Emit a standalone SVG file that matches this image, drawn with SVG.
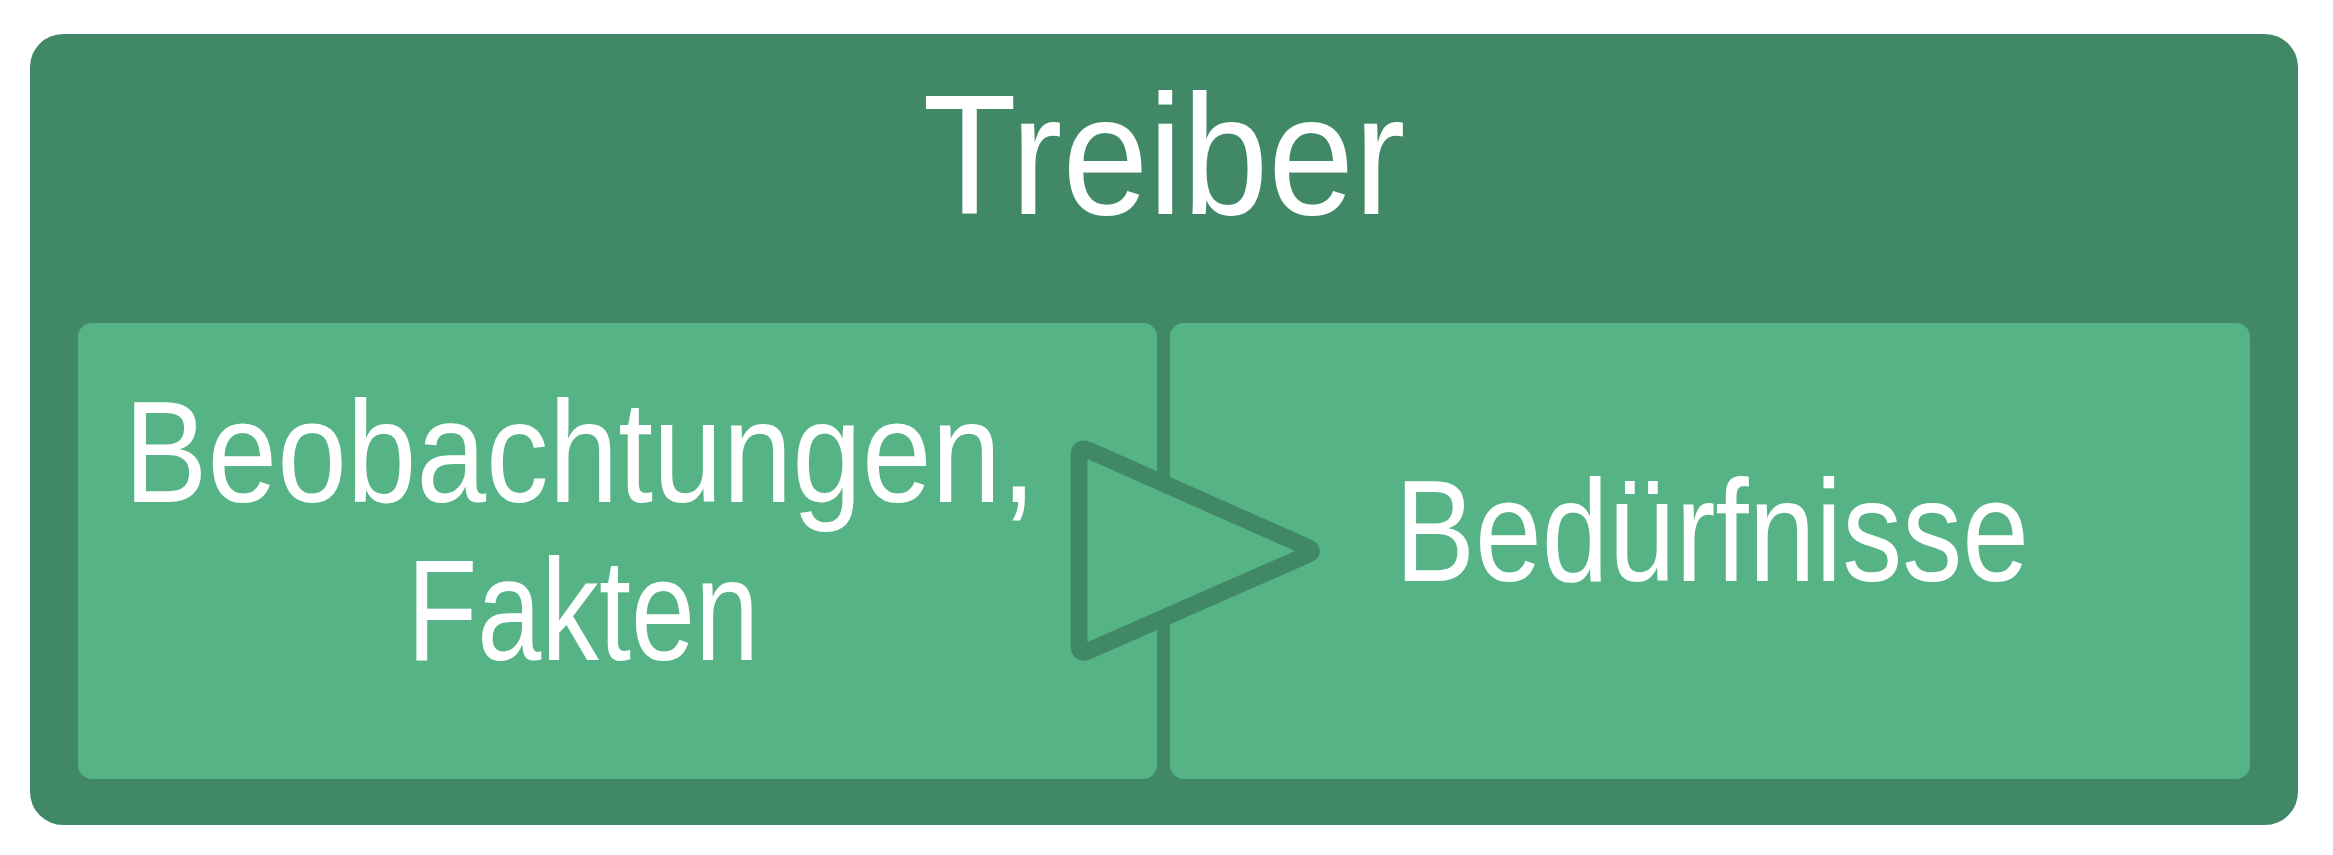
<svg xmlns="http://www.w3.org/2000/svg" width="2333" height="855" viewBox="0 0 2333 855">
  <style>
    .outer { fill: #418966; }
    .box { fill: #56B385; }
    .lbl { fill: #FFFFFF; font-family: "Liberation Sans", Arial, sans-serif; text-anchor: middle; }
    .tri { fill: #56B385; stroke: #418966; stroke-width: 17; stroke-linejoin: round; }
  </style>
  <rect x="0" y="0" width="2333" height="855" fill="#FFFFFF"/>
  <g id="treiber">
    <rect class="outer" x="30" y="34" width="2268" height="791" rx="33" ry="33"/>
    <text class="lbl" x="1164" y="214" font-size="170" textLength="483" lengthAdjust="spacingAndGlyphs">Treiber</text>
  </g>
  <g id="beobachtungen">
    <rect class="box" x="78" y="323" width="1079" height="456" rx="14" ry="14"/>
    <text class="lbl" x="580" y="502" font-size="145" textLength="912" lengthAdjust="spacingAndGlyphs">Beobachtungen,</text>
    <text class="lbl" x="583" y="660" font-size="145" textLength="352" lengthAdjust="spacingAndGlyphs">Fakten</text>
  </g>
  <g id="beduerfnisse">
    <rect class="box" x="1170" y="323" width="1080" height="456" rx="14" ry="14"/>
    <text class="lbl" x="1712" y="581" font-size="145" textLength="634" lengthAdjust="spacingAndGlyphs">Bedürfnisse</text>
  </g>
  <g id="connectors">
    <path class="tri" d="M1088.1,450.1 L1306.9,547 Q1316,551 1306.8,555 L1088.2,651 Q1079,655 1079,645 L1079,456 Q1079,446 1088.1,450.1 Z"/>
  </g>
</svg>
